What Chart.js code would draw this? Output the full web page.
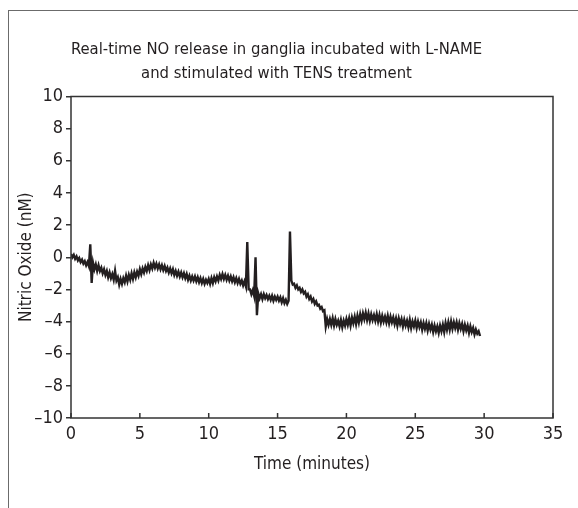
<!DOCTYPE html>
<html>
<head>
<meta charset="utf-8">
<script src="https://cdn.jsdelivr.net/npm/chart.js@4.4.1/dist/chart.umd.min.js"></script>
<style>
  body { margin: 0; background: #fff; }
  #wrap { position: relative; width: 578px; height: 508px; overflow: hidden; }
  #frame { position: absolute; left: 8px; top: 10px; width: 580px; height: 520px; border: 1.5px solid #6b6b6b; box-sizing: border-box; }
  #graph1 { position: absolute; left: 0; top: 0; }
</style>
</head>
<body>
<div id="wrap">
  <div id="frame"></div>
  <canvas id="graph1" width="578" height="508"></canvas>
</div>
<script>
let graph1 = document.getElementById("graph1");

// recording sampled every 0.1 min from t = 0
const sampleStep = 0.1;
const noNM = [
  0.2, 0.0, 0.15, -0.1, 0.05, -0.2, -0.05, -0.3, -0.15, -0.4,
  -0.25, -0.5, -0.3, -0.55, 0.8, -1.6, -0.35, -0.75, -0.45, -0.85,
  -0.5, -0.85, -0.65, -1.0, -0.75, -1.1, -0.85, -1.25, -0.95, -1.3,
  -1.05, -1.4, -0.85, -1.45, -1.25, -1.7, -1.35, -1.65, -1.3, -1.55,
  -1.15, -1.5, -1.1, -1.4, -1.0, -1.35, -0.95, -1.25, -0.9, -1.15,
  -0.75, -1.05, -0.7, -0.95, -0.6, -0.85, -0.5, -0.8, -0.45, -0.7,
  -0.35, -0.65, -0.4, -0.7, -0.45, -0.75, -0.5, -0.8, -0.55, -0.85,
  -0.65, -0.95, -0.7, -1.0, -0.75, -1.1, -0.85, -1.15, -0.9, -1.2,
  -0.95, -1.25, -1.0, -1.3, -1.05, -1.4, -1.15, -1.45, -1.2, -1.45,
  -1.2, -1.5, -1.25, -1.55, -1.3, -1.6, -1.35, -1.65, -1.4, -1.6,
  -1.35, -1.65, -1.3, -1.6, -1.25, -1.5, -1.2, -1.45, -1.1, -1.35,
  -1.05, -1.35, -1.1, -1.4, -1.15, -1.45, -1.2, -1.5, -1.25, -1.55,
  -1.3, -1.6, -1.35, -1.65, -1.45, -1.75, -1.5, -1.8, 0.95, -2.0,
  -2.0, -2.3, -2.05, -2.4, 0.0, -3.6, -2.25, -2.55, -2.3, -2.6,
  -2.3, -2.55, -2.35, -2.6, -2.4, -2.65, -2.4, -2.7, -2.45, -2.65,
  -2.45, -2.7, -2.5, -2.8, -2.55, -2.85, -2.65, -2.9, -2.7, 1.6,
  -1.45, -1.7, -1.65, -1.9, -1.75, -2.0, -1.9, -2.15, -2.0, -2.25,
  -2.15, -2.45, -2.3, -2.6, -2.45, -2.75, -2.6, -2.9, -2.75, -3.0,
  -2.95, -3.2, -3.1, -3.35, -3.3, -4.3, -3.85, -4.2, -3.85, -4.2,
  -3.8, -4.25, -3.85, -4.2, -3.95, -4.3, -3.9, -4.35, -3.95, -4.25,
  -3.85, -4.2, -3.8, -4.25, -3.75, -4.1, -3.7, -4.15, -3.65, -4.05,
  -3.55, -3.95, -3.5, -3.85, -3.45, -3.9, -3.5, -3.95, -3.55, -3.9,
  -3.6, -3.95, -3.55, -4.0, -3.6, -4.05, -3.65, -4.0, -3.7, -4.05,
  -3.65, -4.1, -3.7, -4.05, -3.75, -4.15, -3.8, -4.25, -3.8, -4.15,
  -3.85, -4.3, -3.9, -4.25, -3.95, -4.35, -3.9, -4.4, -4.0, -4.3,
  -3.95, -4.4, -4.0, -4.35, -4.05, -4.5, -4.1, -4.45, -4.1, -4.55,
  -4.15, -4.5, -4.2, -4.65, -4.25, -4.6, -4.3, -4.7, -4.25, -4.6,
  -4.2, -4.65, -4.1, -4.5, -4.05, -4.5, -4.0, -4.45, -4.05, -4.4,
  -4.05, -4.5, -4.1, -4.45, -4.15, -4.6, -4.2, -4.55, -4.25, -4.7,
  -4.3, -4.65, -4.4, -4.8, -4.5, -4.75, -4.6, -4.9
];
const xTicks = [0, 5, 10, 15, 20, 25, 30, 35];
const yTicks = [-10, -8, -6, -4, -2, 0, 2, 4, 6, 8, 10];

const titleLines = ['Real-time NO release in ganglia incubated with L-NAME', 'and stimulated with TENS treatment'];
const fontFam = '"Liberation Sans Narrow", "DejaVu Sans Condensed", sans-serif';
const inkColor = '#231f20';

const points = noNM.map((v, i) => ({ x: Math.round(i * sampleStep * 10) / 10, y: v }));

// box around the plot + inward ticks on the time axis
const framePlugin = {
  id: 'frame',
  afterDraw(chart) {
    const { ctx, chartArea: a } = chart;
    const xs = chart.scales.x;
    ctx.save();
    ctx.strokeStyle = '#333';
    ctx.lineWidth = 1.5;
    ctx.strokeRect(a.left, a.top, a.right - a.left, a.bottom - a.top);
    ctx.beginPath();
    xTicks.forEach(t => {
      const px = xs.getPixelForValue(t);
      ctx.moveTo(px, a.bottom);
      ctx.lineTo(px, a.bottom - 5);
    });
    ctx.stroke();
    ctx.restore();
  }
};

const minus = v => String(v).replace('-', '\u2013');

const configGraph1 = {
  type: 'line',
  data: {
    datasets: [{
      data: points,
      borderColor: inkColor,
      borderWidth: 2.4,
      pointRadius: 0,
      tension: 0,
      fill: false
    }]
  },
  options: {
    responsive: false,
    animation: false,
    layout: { padding: { left: 0, right: 25, top: 0, bottom: 0 } },
    plugins: {
      legend: { display: false },
      tooltip: { enabled: false },
      title: {
        display: true,
        text: titleLines,
        color: inkColor,
        font: { family: fontFam, size: 16.5, weight: 'normal', lineHeight: 1.5 },
        padding: { top: 37, bottom: 10 }
      }
    },
    scales: {
      x: {
        type: 'linear',
        min: 0,
        max: 35,
        afterBuildTicks: s => { s.ticks = xTicks.map(v => ({ value: v })); },
        afterFit: s => { s.height = 90; },
        border: { display: false },
        grid: { display: false, drawTicks: false },
        ticks: { color: inkColor, font: { family: fontFam, size: 18 }, padding: 6, maxRotation: 0, callback: v => minus(v) },
        title: { display: true, text: 'Time (minutes)', color: inkColor, font: { family: fontFam, size: 17 }, padding: { top: 0, bottom: 33 } }
      },
      y: {
        min: -10,
        max: 10,
        afterBuildTicks: s => { s.ticks = yTicks.map(v => ({ value: v })); },
        afterFit: s => { s.width = 71; },
        border: { display: false },
        grid: { drawOnChartArea: false, tickLength: 5, color: '#333', lineWidth: 1.5 },
        ticks: { color: inkColor, font: { family: fontFam, size: 18 }, padding: 3, callback: v => minus(v) },
        title: { display: true, text: 'Nitric Oxide (nM)', color: inkColor, font: { family: fontFam, size: 17 }, padding: { top: 16, bottom: 0 } }
      }
    }
  },
  plugins: [framePlugin]
};

let graph1Visible = new Chart(graph1, configGraph1);
</script>
</body>
</html>
